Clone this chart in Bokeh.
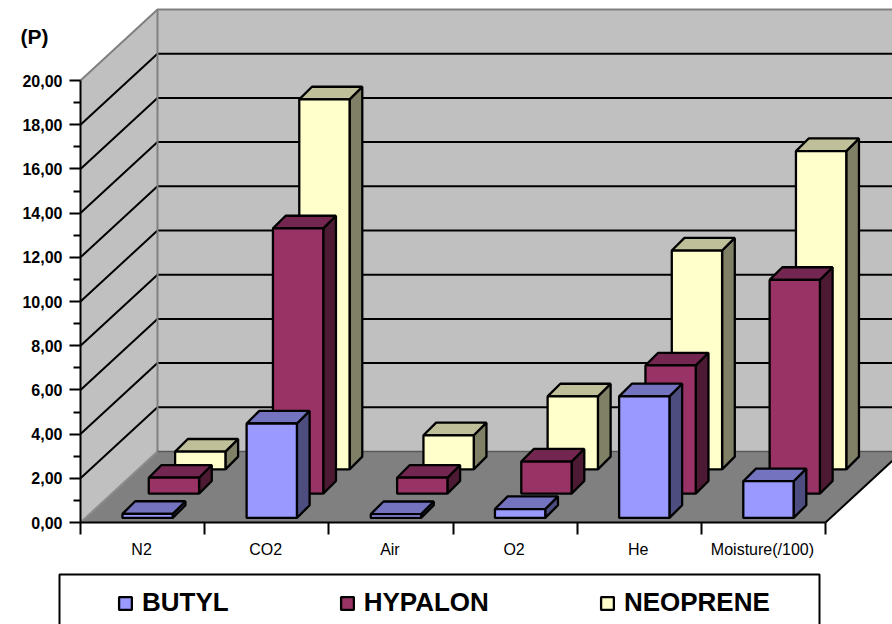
from bokeh.embed import file_html
from bokeh.resources import INLINE
from bokeh.plotting import figure
from bokeh.models import (Range1d, FixedTicker, LinearAxis, Legend, LegendItem, Label, BoxAnnotation)

# ---- data
categories = ["N2", "CO2", "Air", "O2", "He", "Moisture(/100)"]
butyl = [0.18, 4.27, 0.17, 0.40, 5.50, 1.66]
hypalon = [0.72, 12.0, 0.72, 1.45, 5.80, 9.67]
neoprene = [0.80, 16.74, 1.54, 3.30, 9.90, 14.40]
y_major = [0, 2, 4, 6, 8, 10, 12, 14, 16, 18, 20]
y_minor = [1, 3, 5, 7, 9, 11, 13, 15, 17, 19]
y_labels = ["0,00", "2,00", "4,00", "6,00", "8,00", "10,00", "12,00", "14,00", "16,00", "18,00", "20,00"]

# ---- layout scale: pixels per data unit
PX_X = 124.17
PX_Y = 22.1
W, H = 892, 624
X0, Y0 = 80, 522        # pixel position of the data origin
DEPTH_X = 77 / PX_X     # oblique projection: full floor depth, in data units
DEPTH_Y = 71 / PX_Y
BAR_W = 50.3 / PX_X
BAR_DEPTH_X = 0.165
BAR_DEPTH_Y = 0.178
ROW_START, ROW_STEP = 0.065, 0.342
BAR_LINE = 2.3
FONT = "Liberation Sans"

def dx(px):
    return (px - X0) / PX_X

def dy(px):
    return (Y0 - px) / PX_Y

p = figure(width=W, height=H, output_backend="svg", toolbar_location=None,
           x_range=Range1d(dx(0), dx(W)), y_range=Range1d(dy(H), dy(0)),
           min_border_left=0, min_border_right=0, min_border_top=0, min_border_bottom=0,
           x_axis_type=None, y_axis_type=None)
p.outline_line_color = None
p.grid.visible = False
p.background_fill_color = "white"
p.border_fill_color = "white"

n = len(categories)
top = y_major[-1]
# walls and floor
p.patch([0, DEPTH_X, DEPTH_X, 0], [0, DEPTH_Y, top + DEPTH_Y, top], fill_color="#C0C0C0", line_color=None)
p.patch([DEPTH_X, n + DEPTH_X, n + DEPTH_X, DEPTH_X], [DEPTH_Y, DEPTH_Y, top + DEPTH_Y, top + DEPTH_Y],
        fill_color="#C0C0C0", line_color=None)
p.patch([0, n, n + DEPTH_X, DEPTH_X], [0, 0, DEPTH_Y, DEPTH_Y], fill_color="#808080", line_color=None)
# gridlines on the walls
grid = y_major[1:-1]
p.multi_line([[0, DEPTH_X, n + DEPTH_X] for _ in grid],
             [[v, v + DEPTH_Y, v + DEPTH_Y] for v in grid], line_color="black", line_width=2)
# wall edges
p.line([0, DEPTH_X, n + DEPTH_X], [top, top + DEPTH_Y, top + DEPTH_Y], line_color="#808080", line_width=2)
p.line([DEPTH_X, DEPTH_X], [DEPTH_Y, top + DEPTH_Y], line_color="#808080", line_width=2)
p.line([0, DEPTH_X], [0, DEPTH_Y], line_color="#8c8c8c", line_width=2)
p.line([DEPTH_X, n + DEPTH_X], [DEPTH_Y, DEPTH_Y], line_color="#585858", line_width=1.5)
p.line([n, n + DEPTH_X], [0, DEPTH_Y], line_color="black", line_width=2)

series = [
    ("NEOPRENE", neoprene, 2, "#FFFFCC", "#808066", "#BFBF99"),
    ("HYPALON", hypalon, 1, "#993366", "#4D1A33", "#732650"),
    ("BUTYL", butyl, 0, "#9999FF", "#4D4D80", "#7373BF"),
]
fronts = {}
for name, vals, row, c_front, c_side, c_top in series:
    d = ROW_START + ROW_STEP * row
    ox, oy = d * DEPTH_X, d * DEPTH_Y
    bx, by = BAR_DEPTH_X * DEPTH_X, BAR_DEPTH_Y * DEPTH_Y
    lefts = [i + 0.5 - BAR_W / 2 + ox for i in range(n)]
    rights = [l + BAR_W for l in lefts]
    p.patches([[r, r + bx, r + bx, r] for r in rights],
              [[oy, oy + by, oy + by + v, oy + v] for v in vals],
              fill_color=c_side, line_color="black", line_width=BAR_LINE)
    p.patches([[l, r, r + bx, l + bx] for l, r in zip(lefts, rights)],
              [[oy + v, oy + v, oy + v + by, oy + v + by] for v in vals],
              fill_color=c_top, line_color="black", line_width=BAR_LINE)
    fronts[name] = p.quad(left=lefts, right=rights, bottom=[oy] * n, top=[oy + v for v in vals],
                          fill_color=c_front, line_color="black", line_width=BAR_LINE)

# axes
yax = LinearAxis(ticker=FixedTicker(ticks=y_major, minor_ticks=y_minor), bounds=(0, top),
                 major_label_overrides=dict(zip(y_major, y_labels)), fixed_location=0)
yax.axis_line_color = "black"; yax.axis_line_width = 2
yax.major_tick_line_color = "black"; yax.major_tick_line_width = 2
yax.minor_tick_line_color = "black"; yax.minor_tick_line_width = 2
yax.major_tick_out = 11; yax.major_tick_in = 0
yax.minor_tick_out = 7; yax.minor_tick_in = 0
yax.major_label_standoff = 7
yax.major_label_text_font = FONT
yax.major_label_text_font_style = "bold"
yax.major_label_text_font_size = "16px"
yax.major_label_text_color = "black"
p.add_layout(yax, "left")

centers = [i + 0.492 for i in range(n)]
xax = LinearAxis(ticker=FixedTicker(ticks=centers, minor_ticks=list(range(n + 1))), bounds=(0, n),
                 major_label_overrides=dict(zip(centers, categories)), fixed_location=0)
xax.axis_line_color = "black"; xax.axis_line_width = 2
xax.major_tick_line_color = None
xax.major_tick_out = 0; xax.major_tick_in = 0
xax.minor_tick_line_color = "black"; xax.minor_tick_line_width = 2
xax.minor_tick_out = 12; xax.minor_tick_in = 0
xax.major_label_standoff = 6
xax.major_label_text_font = FONT
xax.major_label_text_font_size = "16px"
xax.major_label_text_color = "black"
p.add_layout(xax, "below")

# unit label
p.add_layout(Label(x=dx(20), y=dy(47), text="(P)", text_font=FONT,
                   text_font_style="bold", text_font_size="21px", text_color="black"))

# legend frame and legend
p.add_layout(BoxAnnotation(left=dx(59), right=dx(819), top=dy(574), bottom=dy(640),
                           fill_color="white", fill_alpha=1, line_color="black", line_alpha=1, line_width=2))
legend = Legend(items=[LegendItem(label=nm, renderers=[fronts[nm]]) for nm in ["BUTYL", "HYPALON", "NEOPRENE"]],
                orientation="horizontal", location=(117, H - 618),
                padding=0, margin=0, spacing=110, glyph_width=16, glyph_height=16, label_standoff=9,
                border_line_color=None, background_fill_color=None,
                label_text_font=FONT, label_text_font_style="bold", label_text_font_size="26px",
                label_text_color="black")
p.add_layout(legend, "center")

open("out.html", "w").write(file_html(p, INLINE))
